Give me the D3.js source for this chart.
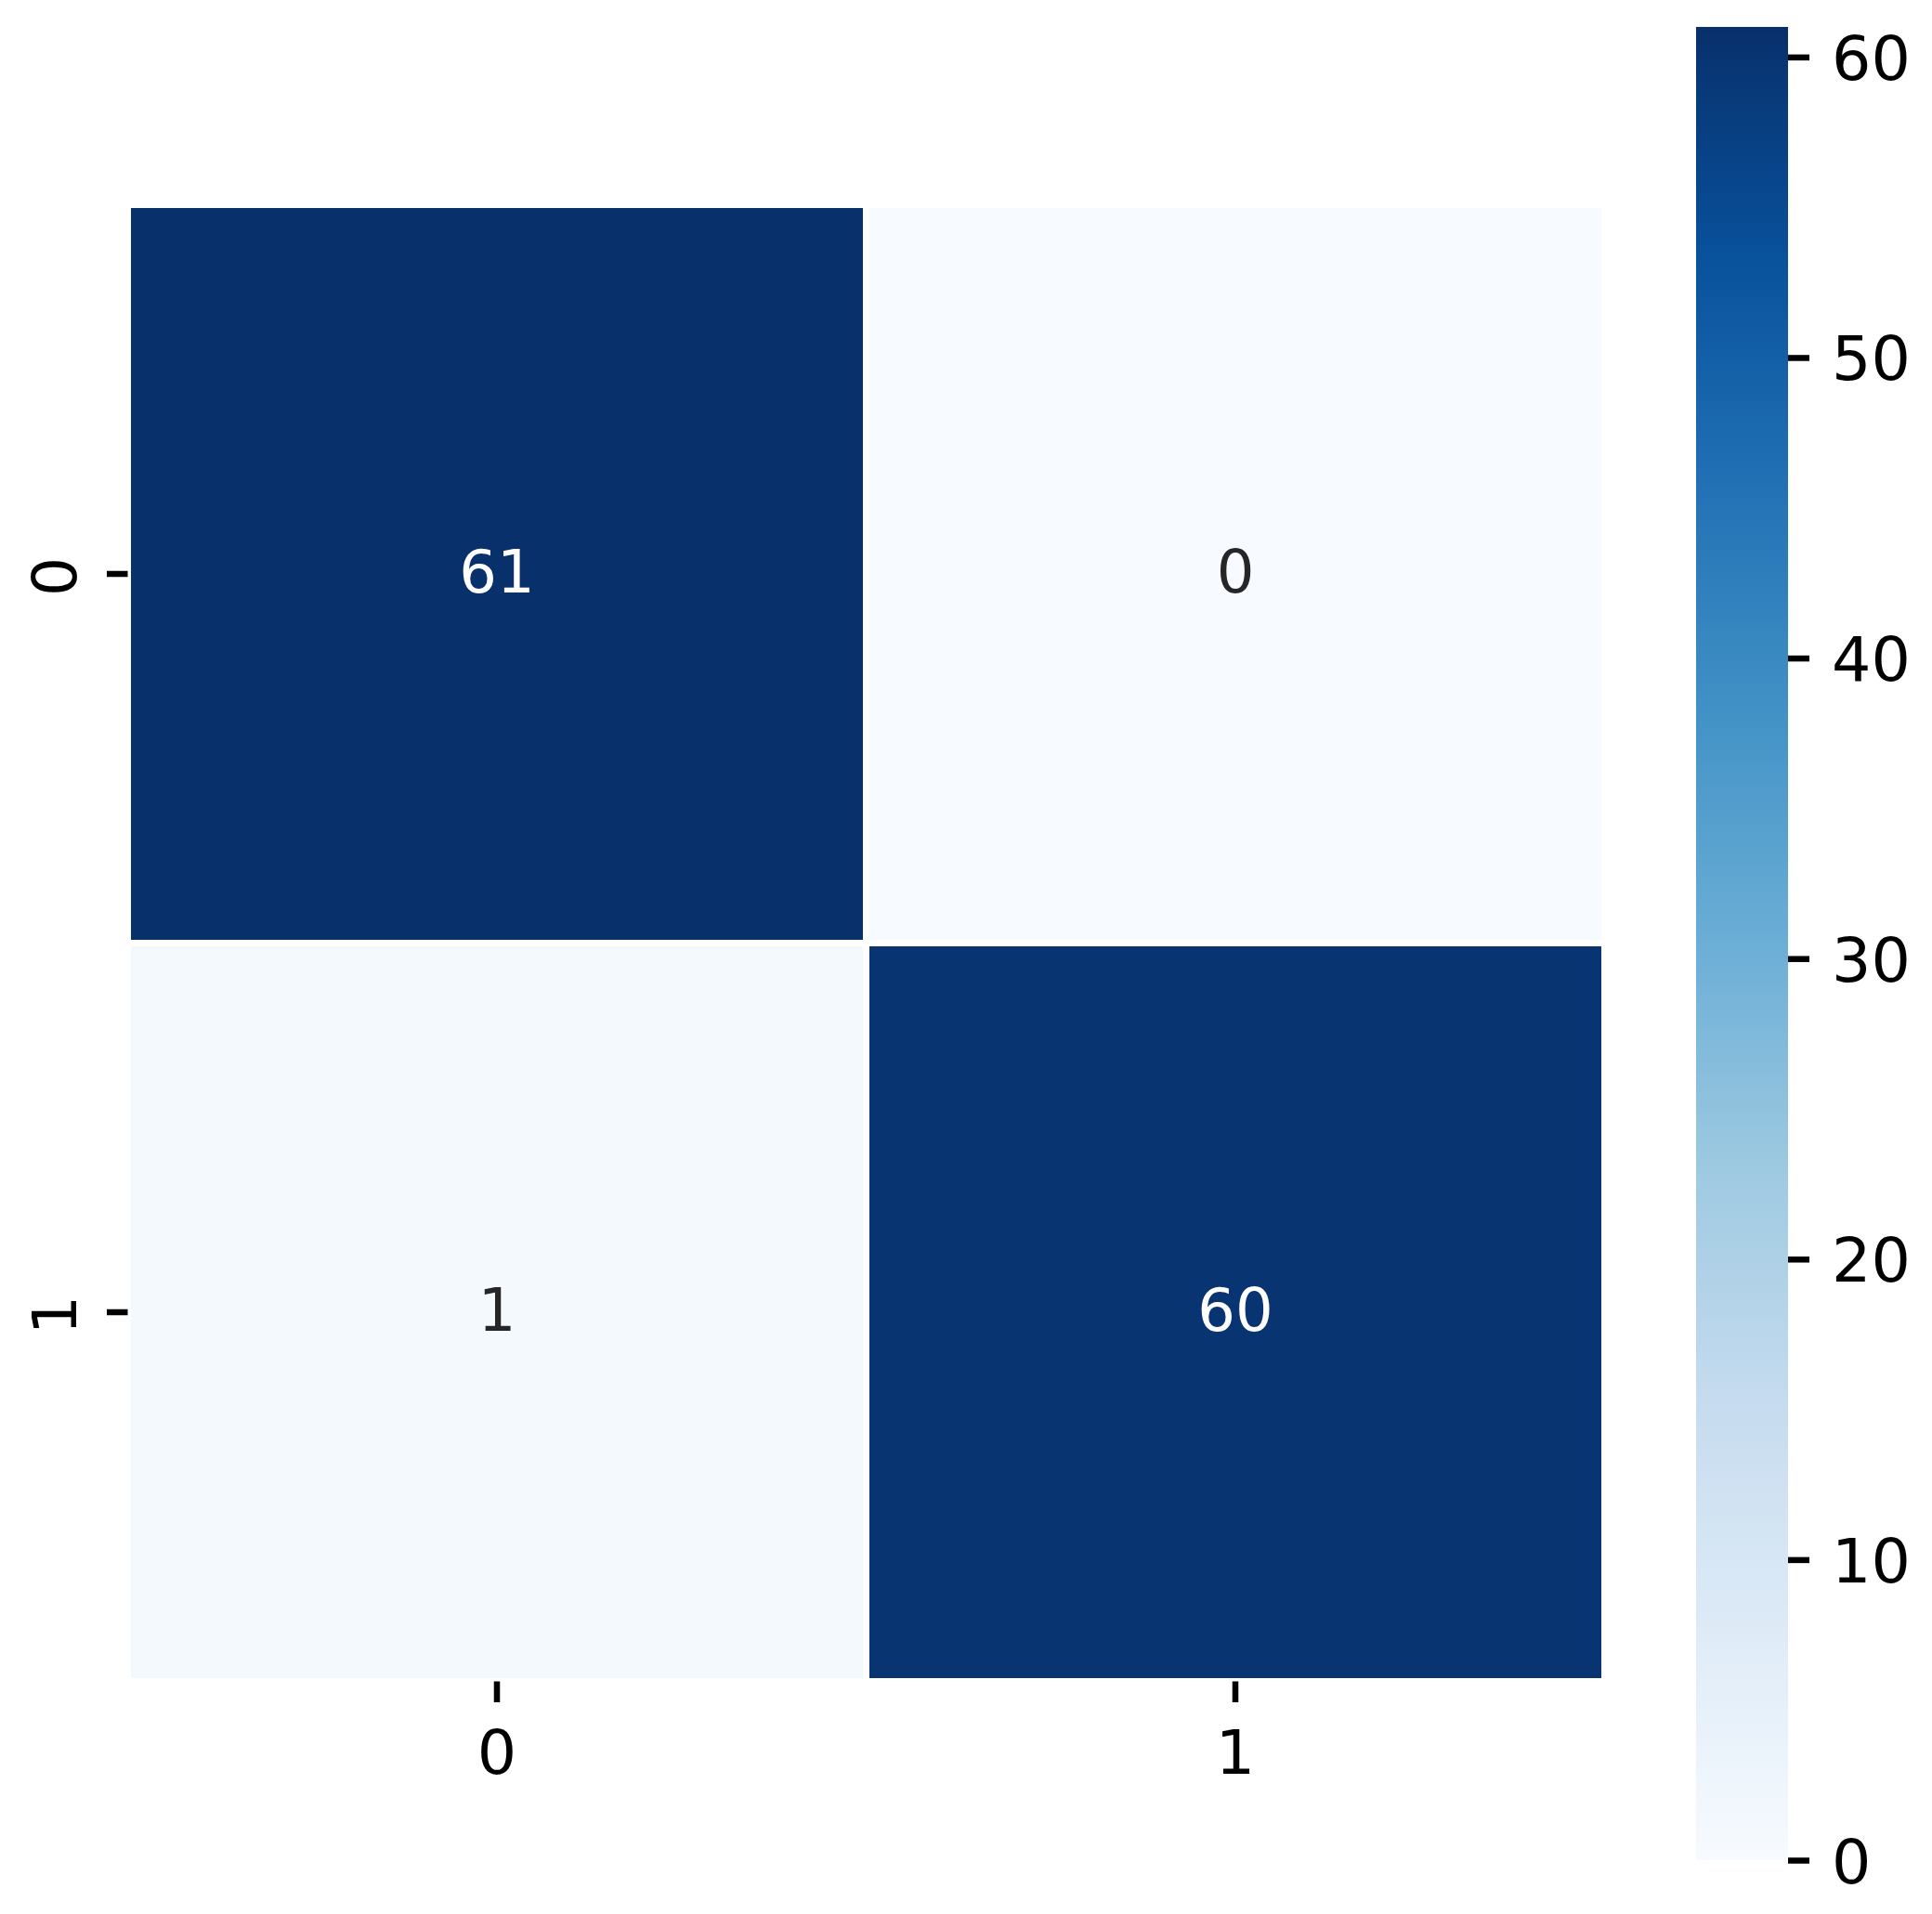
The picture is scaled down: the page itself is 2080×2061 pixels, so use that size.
<!DOCTYPE html>
<head>
    <meta charset="utf-8">
    <title>Confusion matrix</title>
    <script src="https://d3js.org/d3.v7.min.js"></script>
    <style>
        body { margin: 0; background: #fff; }
        text { font-family: "DejaVu Sans", sans-serif; }
    </style>
</head>
<body>
    <div id="container"></div>
    <script>
        //------------------------DATA------------------------//
        var rowLabels = ["0", "1"],
            colLabels = ["0", "1"],
            values = [[61, 0],
                      [1, 60]],
            cbarTicks = [0, 10, 20, 30, 40, 50, 60],
            blues = ["#f7fbff", "#deebf7", "#c6dbef", "#9ecae1", "#6baed6",
                     "#4292c6", "#2171b5", "#08519c", "#08306b"]

        //------------------------SETUP------------------------//
        var width = 2080, height = 2061,
            plot = { left: 137.5, top: 220.5, size: 1590 },
            cbar = { left: 1826, right: 1925, top: 29, bottom: 2003 },
            fontSize = 66.7

        var vmax = d3.max(values, r => d3.max(r)),
            vmin = d3.min(values, r => d3.min(r))

        var color = d3.scaleLinear()
            .domain(blues.map((c, i) => vmin + i / (blues.length - 1) * (vmax - vmin)))
            .range(blues)
            .interpolate(d3.interpolateRgb)

        var xScale = d3.scaleBand().domain(colLabels).range([plot.left, plot.left + plot.size])
        var yScale = d3.scaleBand().domain(rowLabels).range([plot.top, plot.top + plot.size])
        var cScale = d3.scaleLinear().domain([vmin, vmax]).range([cbar.bottom, cbar.top])

        var svg = d3.select("#container").append("svg")
            .attr("width", width)
            .attr("height", height)

        //------------------------CELLS------------------------//
        var cells = []
        rowLabels.forEach((r, i) => colLabels.forEach((c, j) => cells.push({ row: r, col: c, v: values[i][j] })))

        svg.append("g").selectAll("rect")
            .data(cells)
            .join("rect")
            .attr("x", d => xScale(d.col))
            .attr("y", d => yScale(d.row))
            .attr("width", xScale.bandwidth())
            .attr("height", yScale.bandwidth())
            .attr("fill", d => color(d.v))
            .attr("stroke", "#fff")
            .attr("stroke-width", 7)

        svg.append("g").selectAll("text")
            .data(cells)
            .join("text")
            .attr("x", d => xScale(d.col) + xScale.bandwidth() / 2)
            .attr("y", d => yScale(d.row) + yScale.bandwidth() / 2 + 20)
            .attr("text-anchor", "middle")
            .attr("font-size", 64)
            .attr("fill", d => d.v > vmax / 2 ? "#ffffff" : "#262626")
            .text(d => d.v)

        //------------------------AXES------------------------//
        var xAxis = svg.append("g")
            .attr("transform", "translate(0," + (plot.top + plot.size) + ")")
            .call(d3.axisBottom(xScale).tickSize(22.5).tickPadding(29.5))
        xAxis.select(".domain").remove()

        var yAxis = svg.append("g")
            .attr("transform", "translate(" + plot.left + ",0)")
            .call(d3.axisLeft(yScale).tickSize(22.5))
        yAxis.select(".domain").remove()
        yAxis.selectAll("text")
            .attr("x", 0).attr("y", 0).attr("dy", 0)
            .attr("text-anchor", "middle")
            .attr("transform", "translate(-55.5,3) rotate(-90)")

        //------------------------COLORBAR------------------------//
        var grad = svg.append("defs").append("linearGradient")
            .attr("id", "cbarGrad")
            .attr("x1", 0).attr("y1", 1).attr("x2", 0).attr("y2", 0)
        grad.selectAll("stop")
            .data(d3.range(0, 1.0001, 0.02))
            .join("stop")
            .attr("offset", d => d)
            .attr("stop-color", d => color(vmin + d * (vmax - vmin)))

        svg.append("rect")
            .attr("x", cbar.left)
            .attr("y", cbar.top)
            .attr("width", cbar.right - cbar.left)
            .attr("height", cbar.bottom - cbar.top)
            .attr("fill", "url(#cbarGrad)")

        var cAxis = svg.append("g")
            .attr("transform", "translate(" + cbar.right + ",0)")
            .call(d3.axisRight(cScale).tickValues(cbarTicks).tickSize(23).tickPadding(24))
        cAxis.select(".domain").remove()
        cAxis.selectAll("text").attr("dy", "0.36em")

        svg.selectAll(".tick line").attr("stroke", "#000").attr("stroke-width", 6.5)
        svg.selectAll(".tick text").attr("font-size", fontSize).attr("fill", "#000")
            .style("font-family", "DejaVu Sans")
    </script>
</body>
